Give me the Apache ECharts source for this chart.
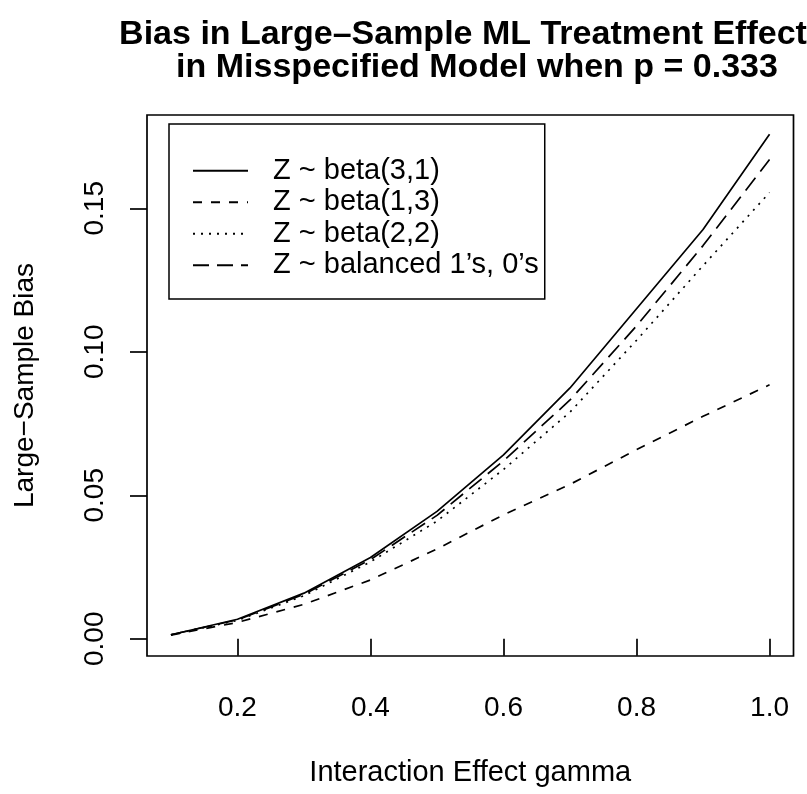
<!DOCTYPE html>
<html>
<head>
<meta charset="utf-8">
<script src="https://cdn.jsdelivr.net/npm/echarts@6/dist/echarts.min.js"></script>
<style>
  html, body { margin: 0; padding: 0; background: #fff; }
  #chart { width: 807px; height: 794px; }
</style>
</head>
<body>
<div id="chart"></div>
<script>
// interaction effect gamma
var gammaValues = [0.1, 0.2, 0.3, 0.4, 0.5, 0.6, 0.7, 0.8, 0.9, 1.0];
// large-sample bias for each Z distribution
var beta31 = [0.0014, 0.0068, 0.0159, 0.0283, 0.0444, 0.0641, 0.0874, 0.1150, 0.1426, 0.1758];
var beta13 = [0.0013, 0.0057, 0.0120, 0.0205, 0.0313, 0.0432, 0.0538, 0.0659, 0.0775, 0.0885];
var beta22 = [0.0014, 0.0064, 0.0150, 0.0268, 0.0410, 0.0590, 0.0790, 0.1040, 0.1300, 0.1555];
var balanced = [0.0014, 0.0066, 0.0155, 0.0276, 0.0430, 0.0620, 0.0832, 0.1090, 0.1370, 0.1670];
var xTicks = [0.2, 0.4, 0.6, 0.8, 1.0];
var yTicks = [0, 0.05, 0.10, 0.15];
var seriesNames = ['Z ~ beta(3,1)', 'Z ~ beta(1,3)', 'Z ~ beta(2,2)', 'Z ~ balanced 1\u2019s, 0\u2019s'];
var titleLines = ['Bias in Large\u2013Sample ML Treatment Effect', 'in Misspecified Model when p = 0.333'];

var font = "'Liberation Sans', Arial, sans-serif";

function pairs(ys) {
    return gammaValues.map(function (x, i) { return [x, ys[i]]; });
}

function makeLine(name, ys, dash) {
    return {
        name: name,
        type: 'line',
        data: pairs(ys),
        showSymbol: false,
        symbol: 'none',
        silent: true,
        itemStyle: { color: '#000', opacity: 0 },
        lineStyle: { color: '#000', width: 1.7, type: dash, opacity: 1 }
    };
}

function titleLine(text, x, y) {
    return {
        text: text,
        left: x,
        top: y,
        textAlign: 'center',
        padding: 0,
        textStyle: { fontFamily: font, fontSize: 34, fontWeight: 'bold', color: '#000', lineHeight: 34 }
    };
}

var myChart = echarts.init(document.getElementById('chart'), null, { renderer: 'canvas' });
var option = {
    backgroundColor: '#fff',
    animation: false,
    title: [
        titleLine(titleLines[0], 463, 18),
        titleLine(titleLines[1], 477, 51)
    ],
    legend: {
        data: seriesNames,
        orient: 'vertical',
        left: 169,
        top: 124,
        padding: [31, 6, 18, 23],
        itemGap: 0,
        itemWidth: 55,
        itemHeight: 14,
        borderColor: '#000',
        borderWidth: 1.5,
        selectedMode: false,
        itemStyle: { opacity: 0 },
        textStyle: { fontFamily: font, fontSize: 29, color: '#000', lineHeight: 31.5, padding: [0, 0, 0, 20] }
    },
    grid: {
        left: 147,
        right: 13.5,
        top: 115,
        bottom: 138,
        show: true,
        borderColor: '#000',
        borderWidth: 1.7,
        backgroundColor: 'transparent'
    },
    xAxis: {
        type: 'value',
        min: 0.064,
        max: 1.036,
        name: 'Interaction Effect gamma',
        nameLocation: 'middle',
        nameGap: 102,
        nameTextStyle: { fontFamily: font, fontSize: 29, color: '#000' },
        axisLine: { show: false },
        splitLine: { show: false },
        axisTick: { show: true, length: 17, customValues: xTicks, lineStyle: { color: '#000', width: 1.7 } },
        axisLabel: {
            customValues: xTicks,
            margin: 38,
            fontFamily: font,
            fontSize: 28,
            color: '#000',
            formatter: function (v) { return v.toFixed(1); }
        }
    },
    yAxis: {
        type: 'value',
        min: -0.006,
        max: 0.1825,
        name: 'Large\u2212Sample Bias',
        nameLocation: 'middle',
        nameRotate: 90,
        nameGap: 108,
        nameTextStyle: { fontFamily: font, fontSize: 28, color: '#000' },
        axisLine: { show: false },
        splitLine: { show: false },
        axisTick: { show: true, length: 17, customValues: yTicks, lineStyle: { color: '#000', width: 1.7 } },
        axisLabel: {
            customValues: yTicks,
            rotate: 90,
            margin: 38,
            fontFamily: font,
            fontSize: 28,
            color: '#000',
            formatter: function (v) { return v.toFixed(2); }
        }
    },
    series: [
        makeLine(seriesNames[0], beta31, 'solid'),
        makeLine(seriesNames[1], beta13, [9, 9]),
        makeLine(seriesNames[2], beta22, [2, 6]),
        makeLine(seriesNames[3], balanced, [16, 8])
    ]
};
myChart.setOption(option);
</script>
</body>
</html>
